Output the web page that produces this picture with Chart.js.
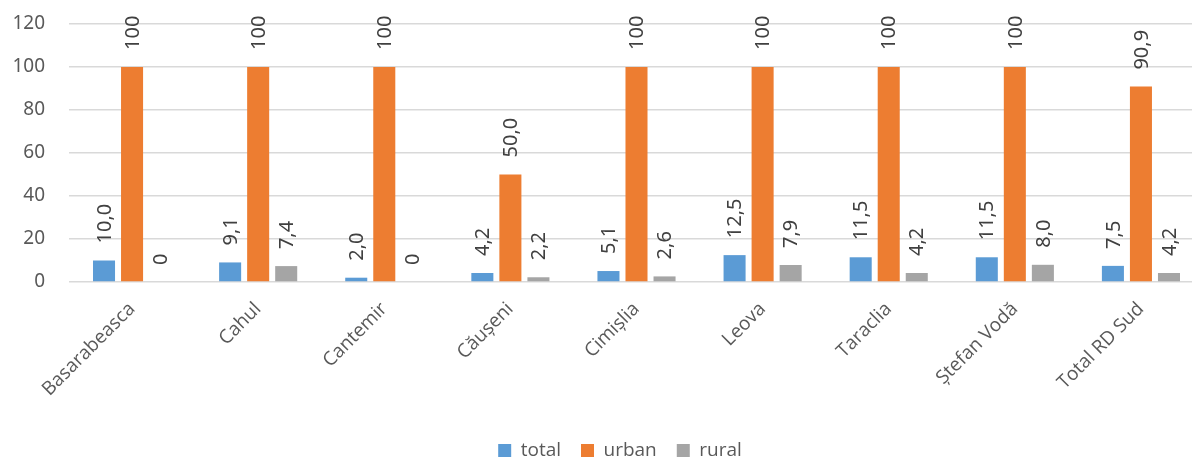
<!DOCTYPE html>
<html>
<head>
<meta charset="utf-8">
<script src="https://cdn.jsdelivr.net/npm/chart.js@4/dist/chart.umd.min.js"></script>
<style>
  html, body { margin: 0; padding: 0; background: #fff; overflow: hidden; }
  #wrap { width: 1204px; height: 459px; }
</style>
</head>
<body>
<div id="wrap"><canvas id="c"></canvas></div>
<script>
const districts = ['Basarabeasca', 'Cahul', 'Cantemir', 'Căușeni', 'Cimișlia', 'Leova', 'Taraclia', 'Ștefan Vodă', 'Total RD Sud']
const totalValues = [10.0, 9.1, 2.0, 4.2, 5.1, 12.5, 11.5, 11.5, 7.5]
const urbanValues = [100, 100, 100, 50.0, 100, 100, 100, 100, 90.9]
const ruralValues = [0, 7.4, 0, 2.2, 2.6, 7.9, 4.2, 8.0, 4.2]
const yTicks = [0, 20, 40, 60, 80, 100, 120]

const textColor = '#595959'

// the source prints 100 and 0 as whole numbers, the rest with one decimal and a comma
const fmt = (v) => (v === 0 || v === 100) ? String(v) : v.toFixed(1).replace('.', ',')

const barLabels = {
  id: 'barLabels',
  afterLayout(chart) {
    // excel puts the legend a bit right of the middle and near the bottom edge
    const lg = chart.legend
    lg.left += 12
    lg.right += 12
    lg.top += 11
    lg.bottom += 11
  },
  afterDatasetsDraw(chart) {
    const ctx = chart.ctx
    ctx.save()
    ctx.fillStyle = '#404040'
    ctx.font = '20px "Noto Sans"'
    ctx.textAlign = 'left'
    ctx.textBaseline = 'middle'
    chart.data.datasets.forEach((ds, i) => {
      chart.getDatasetMeta(i).data.forEach((bar, j) => {
        ctx.save()
        ctx.translate(bar.x + 1, bar.y - 17)
        ctx.rotate(-Math.PI / 2)
        ctx.fillText(fmt(ds.data[j]), 0, 0)
        ctx.restore()
      })
    })
    ctx.restore()
  }
}

new Chart(document.getElementById('c'), {
  type: 'bar',
  data: {
    labels: districts,
    datasets: [
      { label: 'total', data: totalValues, backgroundColor: '#5b9bd5' },
      { label: 'urban', data: urbanValues, backgroundColor: '#ed7d31' },
      { label: 'rural', data: ruralValues, backgroundColor: '#a5a5a5' }
    ]
  },
  plugins: [barLabels],
  options: {
    animation: false,
    responsive: true,
    maintainAspectRatio: false,
    datasets: { bar: { categoryPercentage: 0.667, barPercentage: 0.786 } },
    layout: { padding: { top: 24, left: 12, right: 0, bottom: 0 } },
    scales: {
      x: {
        grid: { display: false },
        border: { display: false },
        afterFit: (s) => { s.paddingLeft = 0; s.paddingRight = 0; s.height = 128 },
        ticks: {
          color: textColor,
          font: { family: '"Open Sans"', size: 19 },
          minRotation: 45,
          maxRotation: 45,
          padding: 8
        }
      },
      y: {
        min: 0,
        max: 120,
        afterBuildTicks: (axis) => { axis.ticks = yTicks.map(v => ({ value: v })) },
        afterFit: (s) => { s.width = 57; s.paddingTop = 0; s.paddingBottom = 0 },
        grid: { color: '#d9d9d9', lineWidth: 1.5, drawTicks: false },
        border: { display: false },
        ticks: {
          color: textColor,
          font: { family: '"Noto Sans"', size: 19 },
          padding: 24
        }
      }
    },
    plugins: {
      legend: {
        position: 'bottom',
        labels: {
          color: textColor,
          font: { family: '"Open Sans"', size: 19 },
          boxWidth: 13,
          boxHeight: 13,
          padding: 20
        }
      },
      tooltip: { enabled: false }
    }
  }
})
</script>
</body>
</html>
